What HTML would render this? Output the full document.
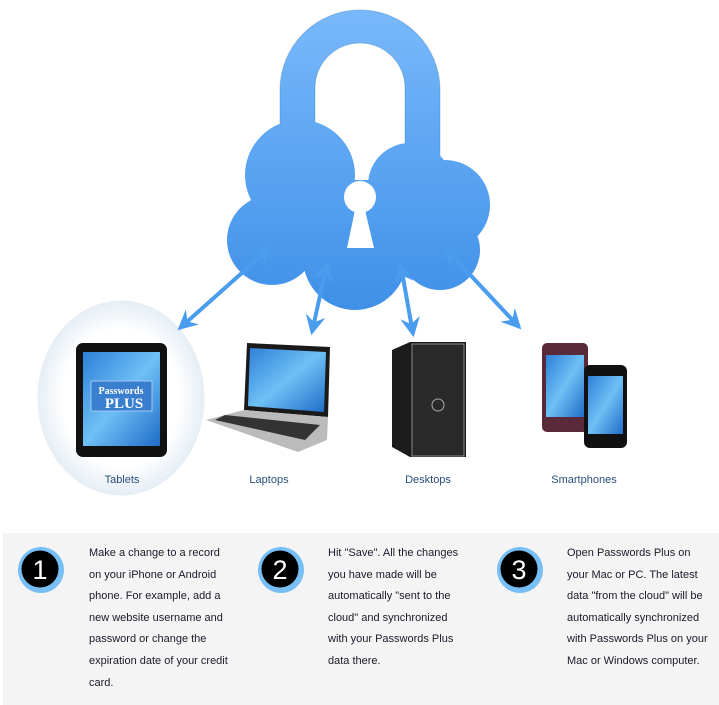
<!DOCTYPE html>
<html><head><meta charset="utf-8"><style>
body{margin:0;width:719px;height:705px;background:#fff;overflow:hidden;position:relative;font-family:"Liberation Sans",Arial,sans-serif}
.panel{position:absolute;left:3px;top:533px;width:716px;height:172px;background:#f4f4f4}
.txt{position:absolute;top:543px;font-size:11px;line-height:21.6px;color:#1a1a2a;width:140px}
.lbl{position:absolute;top:474px;font-size:11px;color:#2a4d7a;transform:translateX(-50%)}
</style></head><body>
<svg width="719" height="705" style="position:absolute;left:0;top:0">
<defs>
<linearGradient id="cg" gradientUnits="userSpaceOnUse" x1="0" y1="10" x2="0" y2="310"><stop offset="0" stop-color="#78b9fb"/><stop offset="1" stop-color="#3f90e8"/></linearGradient>
<radialGradient id="eg" cx="0.5" cy="0.5" r="0.5"><stop offset="0.7" stop-color="#fff"/><stop offset="1" stop-color="#e6eef6"/></radialGradient>
<linearGradient id="sg" x1="0" y1="0" x2="1" y2="1"><stop offset="0" stop-color="#2f7fd8"/><stop offset="0.5" stop-color="#6ec0f5"/><stop offset="1" stop-color="#1f6cc8"/></linearGradient>
<marker id="ah" viewBox="0 0 12 12" refX="10" refY="6" markerWidth="5" markerHeight="5" orient="auto-start-reverse"><path d="M0,0 L12,6 L0,12 L4,6 Z" fill="#4a9cef"/></marker>
</defs>
<ellipse cx="121" cy="398" rx="83" ry="97" fill="url(#eg)" stroke="#e8eef5"/>
<g fill="url(#cg)" stroke="#3a78b8" stroke-opacity="0.35" stroke-width="1">
<path d="M280,150 L280,90 A80,80 0 0 1 440,90 L440,160 L405,160 L405,88 A45,45 0 0 0 315,88 L315,150 Z"/>
</g>
<g fill="url(#cg)">
<circle cx="300" cy="175" r="55"/><circle cx="410" cy="185" r="42"/><circle cx="445" cy="205" r="45"/>
<circle cx="272" cy="240" r="45"/><circle cx="355" cy="258" r="52"/><circle cx="440" cy="250" r="40"/>
<rect x="270" y="180" width="180" height="90"/>
</g>
<circle cx="360" cy="197" r="16" fill="#fff"/>
<path d="M355,210 L365,210 L374,248 L347,248 Z" fill="#fff"/>
<g stroke="#4a9cef" stroke-width="4" marker-start="url(#ah)" marker-end="url(#ah)">
<line x1="270" y1="248" x2="180" y2="328"/>
<line x1="327" y1="264" x2="312" y2="332"/>
<line x1="401" y1="266" x2="413" y2="334"/>
<line x1="446" y1="249" x2="519" y2="327"/>
</g>
<rect x="76" y="343" width="91" height="114" rx="7" fill="#111"/>
<rect x="83" y="352" width="77" height="94" fill="url(#sg)"/>
<rect x="91" y="381" width="61" height="30" fill="#3a7fcf" stroke="#9cc8f0"/>
<text x="121" y="394" font-family="Liberation Serif" font-size="10" font-weight="bold" fill="#fff" text-anchor="middle">Passwords</text>
<text x="124" y="408" font-family="Liberation Serif" font-size="15" font-weight="bold" fill="#fff" text-anchor="middle">PLUS</text>
<path d="M247,343 L330,347 L328,417 L244,410 Z" fill="#1a1a1a"/>
<path d="M250,348 L326,352 L324,412 L248,406 Z" fill="url(#sg)"/>
<path d="M244,410 L328,417 L327,440 L298,452 L206,420 Z" fill="#bbb"/>
<path d="M225,415 L320,425 L305,440 L215,420 Z" fill="#333"/>
<path d="M392,350 L410,342 L466,342 L466,457 L410,457 L392,447 Z" fill="#1c1c1c"/>
<rect x="412" y="344" width="52" height="112" fill="#2a2a2a" stroke="#888"/>
<circle cx="438" cy="405" r="6" fill="none" stroke="#aaa"/>
<rect x="542" y="343" width="46" height="89" rx="5" fill="#5a2a3a"/>
<rect x="546" y="355" width="38" height="62" fill="url(#sg)"/>
<rect x="584" y="365" width="43" height="83" rx="6" fill="#111"/>
<rect x="588" y="376" width="35" height="58" fill="url(#sg)"/>
</svg>
<div class="lbl" style="left:122px">Tablets</div>
<div class="lbl" style="left:269px">Laptops</div>
<div class="lbl" style="left:428px">Desktops</div>
<div class="lbl" style="left:584px">Smartphones</div>
<div class="panel"></div>
<svg width="719" height="705" style="position:absolute;left:0;top:0">
<g font-family="Liberation Sans" font-size="27" fill="#fff" text-anchor="middle">
<circle cx="41" cy="570" r="23" fill="#77bff5"/><circle cx="40" cy="569" r="18.5" fill="#000"/><text x="40" y="579">1</text>
<circle cx="281" cy="570" r="23" fill="#77bff5"/><circle cx="280" cy="569" r="18.5" fill="#000"/><text x="280" y="579">2</text>
<circle cx="520" cy="570" r="23" fill="#77bff5"/><circle cx="519" cy="569" r="18.5" fill="#000"/><text x="519" y="579">3</text>
</g></svg>
<div class="txt" style="left:89px">Make a change to a record on your iPhone or Android phone. For example, add a new website username and password or change the expiration date of your credit card.</div>
<div class="txt" style="left:328px">Hit "Save". All the changes you have made will be automatically "sent to the cloud" and synchronized with your Passwords Plus data there.</div>
<div class="txt" style="left:567px;width:146px">Open Passwords Plus on your Mac or PC. The latest data "from the cloud" will be automatically synchronized with Passwords Plus on your Mac or Windows computer.</div>
</body></html>
